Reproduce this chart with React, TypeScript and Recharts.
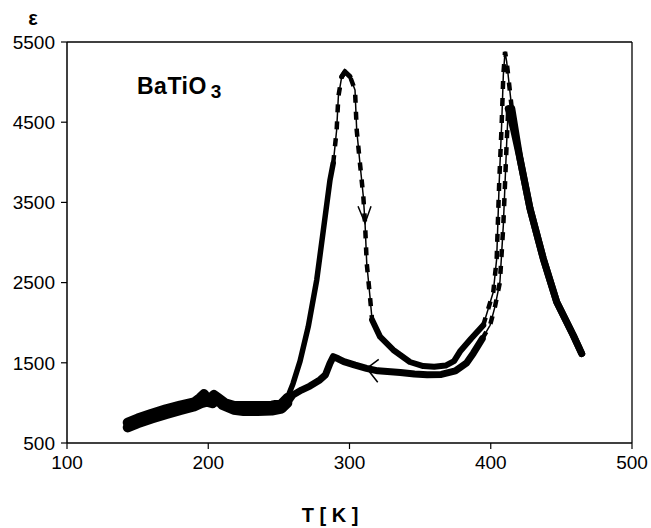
import React from 'react';
import {
  LineChart,
  Line,
  XAxis,
  YAxis,
  ReferenceLine,
  ReferenceDot,
} from 'recharts';

// heating run (T in K, permittivity)
const heatT = [
  143, 150, 160, 170, 180, 190, 194, 197, 199, 201, 204, 207, 212, 218, 225, 235, 245, 252, 256,
  260, 265, 270.8, 276.8, 281.5, 286.2, 288.5, 290.9, 292.1, 294.5, 296.8, 300.4, 303.9, 305.1,
  307.4, 309.8, 311, 312.2, 314.5, 316, 321.6, 331, 342.8, 352.2, 360, 368, 374, 378.2, 386,
  394.7, 401.8, 404.2, 406, 407.7, 408.9, 410.1, 411.3, 414.9, 420.7, 427.8, 437.2, 446.7,
  458.4, 464.4,
];
const heatE = [
  755, 805, 865, 920, 965, 1005, 1060, 1110, 1050, 1045, 1100, 1060, 995, 965, 960, 960, 965, 990, 1060,
  1240, 1520, 1950, 2533, 3156, 3780, 3990, 4403, 4818, 5068, 5130, 5068, 4902, 4403,
  3988, 3571, 3240, 2741, 2324, 2034, 1826, 1660, 1510, 1460, 1450, 1465, 1520, 1640, 1800,
  1968, 2383, 2798, 3755, 4462, 5085, 5376, 5251, 4669, 4045, 3422, 2798, 2258,
  1843, 1614,
];

// cooling run
const coolT = [
  143, 150, 160, 170, 180, 190, 195, 199, 203, 206, 210, 218, 225, 235, 245, 252, 256,
  260, 266, 272, 279, 283, 286.2, 288.5, 292, 296, 304, 312, 320, 336, 346, 355, 365, 375,
  383, 387.7, 394, 399.5, 403, 406.5, 408.9, 411.3, 412.4, 416, 420.7, 427.8, 437.2, 446.7,
  458.4, 464.4,
];
const coolE = [
  695, 745, 805, 860, 910, 955, 995, 1015, 995, 1050, 975, 915, 900, 900, 905, 930, 1000,
  1099, 1160, 1210, 1286, 1350, 1494, 1576, 1550, 1514, 1470, 1431, 1400, 1380, 1360, 1350, 1355, 1400,
  1500, 1620, 1800, 1968, 2200, 2508, 3215, 4253, 4669, 4420, 4045, 3422, 2798, 2258,
  1843, 1614,
];

const xTicks = [100, 200, 300, 400, 500];
const yTicks = [500, 1500, 2500, 3500, 4500, 5500];

type Pt = { t: number; e: number };
const pts = (T: number[], E: number[]): Pt[] => T.map((t, i) => ({ t, e: E[i] }));
const cut = (d: Pt[], a: number, b: number) => d.filter((p) => p.t >= a && p.t <= b);

const heat = pts(heatT, heatE);
const cool = pts(coolT, coolE);

// pieces of each run drawn with their own stroke (thick trace vs thin beaded trace)
const pieces: { d: Pt[]; a: number; b: number; w: number; beads?: boolean }[] = [
  { d: heat, a: 143, b: 256, w: 10 },
  { d: heat, a: 256, b: 288.5, w: 5.5 },
  { d: heat, a: 288.5, b: 316, w: 1.5, beads: true },
  { d: heat, a: 294.5, b: 300.4, w: 5 },
  { d: heat, a: 316, b: 394.7, w: 6 },
  { d: heat, a: 394.7, b: 414.9, w: 1.5, beads: true },
  { d: heat, a: 414.9, b: 465, w: 7 },
  { d: cool, a: 143, b: 256, w: 10 },
  { d: cool, a: 256, b: 394, w: 7 },
  { d: cool, a: 394, b: 412.4, w: 1.5, beads: true },
  { d: cool, a: 412.4, b: 465, w: 7 },
];

const FONT = '"Liberation Sans", Arial, Helvetica, sans-serif';

const DownArrow = (p: any) => (
  <path
    d={`M${p.cx - 7},${p.cy - 17} L${p.cx},${p.cy} L${p.cx + 6},${p.cy - 17}`}
    fill="none"
    stroke="#000"
    strokeWidth={1.5}
  />
);

const LeftArrow = (p: any) => (
  <path
    d={`M${p.cx + 12},${p.cy - 9} L${p.cx},${p.cy} L${p.cx + 11},${p.cy + 14}`}
    fill="none"
    stroke="#000"
    strokeWidth={1.5}
  />
);

export default function App() {
  return (
    <div
      style={{
        position: 'absolute',
        left: 0,
        top: 0,
        width: 651,
        height: 528,
        background: '#fff',
        fontFamily: FONT,
      }}
    >
      <LineChart
        width={651}
        height={528}
        margin={{ top: 42, right: 19, left: 0, bottom: 55 }}
      >
        <XAxis
          type="number"
          dataKey="t"
          domain={[100, 500]}
          ticks={xTicks}
          height={30}
          tickSize={6}
          tickMargin={7}
          axisLine={{ stroke: '#000', strokeWidth: 1.5 }}
          tickLine={{ stroke: '#000', strokeWidth: 1.2 }}
          tick={{ fill: '#000', fontSize: 19, fontFamily: FONT }}
          allowDataOverflow
        />
        <YAxis
          type="number"
          dataKey="e"
          domain={[500, 5500]}
          ticks={yTicks}
          width={67}
          tickSize={6}
          tickMargin={6}
          axisLine={{ stroke: '#000', strokeWidth: 1.5 }}
          tickLine={{ stroke: '#000', strokeWidth: 1.2 }}
          tick={{ fill: '#000', fontSize: 19, fontFamily: FONT }}
          allowDataOverflow
        />
        <ReferenceLine y={5500} stroke="#000" strokeWidth={1.3} />
        <ReferenceLine x={500} stroke="#000" strokeWidth={1.3} />

        {pieces.map((s, i) => (
          <Line
            key={`l${i}`}
            data={cut(s.d, s.a, s.b)}
            dataKey="e"
            type="linear"
            stroke="#000"
            strokeWidth={s.w}
            strokeLinejoin="round"
            strokeLinecap="round"
            dot={false}
            activeDot={false}
            isAnimationActive={false}
          />
        ))}
        {pieces
          .filter((s) => s.beads)
          .map((s, i) => (
            <Line
              key={`b${i}`}
              data={cut(s.d, s.a, s.b)}
              dataKey="e"
              type="linear"
              stroke="#000"
              strokeWidth={4.5}
              strokeDasharray="8 9"
              dot={false}
              activeDot={false}
              isAnimationActive={false}
            />
          ))}

        <ReferenceDot x={311} y={3240} r={0} shape={DownArrow} />
        <ReferenceDot x={312.2} y={1431} r={0} shape={LeftArrow} />
      </LineChart>

      <div
        style={{
          position: 'absolute',
          left: 18,
          top: 5,
          width: 30,
          textAlign: 'center',
          fontSize: 20,
          lineHeight: '26px',
          fontWeight: 'bold',
        }}
      >
        ε
      </div>
      <div
        style={{
          position: 'absolute',
          left: 137,
          top: 75,
          fontSize: 23,
          lineHeight: '23px',
          fontWeight: 'bold',
          letterSpacing: 0.5,
          whiteSpace: 'nowrap',
        }}
      >
        BaTiO
        <span style={{ fontSize: 19, marginLeft: 4, position: 'relative', top: 4 }}>3</span>
      </div>
      <div
        style={{
          position: 'absolute',
          left: 230,
          top: 503,
          width: 200,
          textAlign: 'center',
          fontSize: 20,
          lineHeight: '24px',
          fontWeight: 'bold',
          whiteSpace: 'pre',
        }}
      >
        {'T [ K ]'}
      </div>
    </div>
  );
}
